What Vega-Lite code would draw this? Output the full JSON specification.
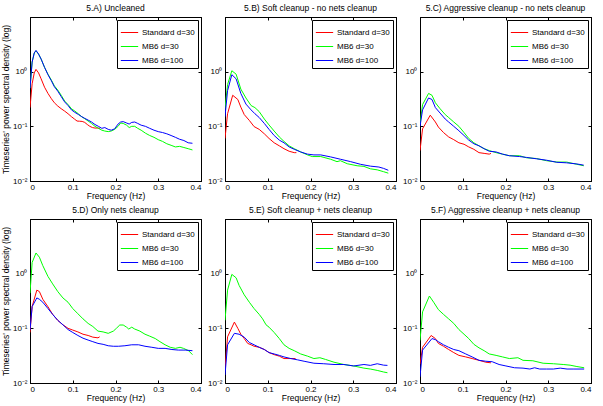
{
"$schema": "https://vega.github.io/schema/vega-lite/v6.json",
"padding": {"left": 0, "top": 3, "right": 5, "bottom": 3},
"columns": 3,
"spacing": {"row": 38, "column": 24},
"bounds": "flush",
"resolve": {"scale": {"color": "independent"}, "legend": {"color": "independent"}},
"config": {
  "font": "Liberation Sans",
  "view": {"stroke": "black", "strokeWidth": 1},
  "axis": {"grid": false, "labelFontSize": 8, "titleFontSize": 8.5, "titleFontWeight": "normal", "labelColor": "black", "titleColor": "black", "tickColor": "black", "domainColor": "black", "tickSize": -3, "labelPadding": 6, "titlePadding": 2},
  "axisX": {"labelPadding": 5, "titlePadding": 0},
  "title": {"fontSize": 8.5, "fontWeight": "normal", "offset": 4, "color": "black"},
  "legend": {"orient": "top-right", "offset": 3, "strokeColor": "black", "fillColor": "white", "padding": 3, "labelFontSize": 8, "labelColor": "black", "symbolType": "stroke", "symbolSize": 300, "symbolStrokeWidth": 1, "rowPadding": 0, "title": null, "labelOffset": 3},
  "line": {"strokeWidth": 1}
},
"datasets": {"psd": [
{"p":"A","s":"Standard d=30","f":0,"v":0.22},{"p":"A","s":"Standard d=30","f":0.005,"v":0.6},{"p":"A","s":"Standard d=30","f":0.01,"v":0.95},{"p":"A","s":"Standard d=30","f":0.014,"v":1.1},{"p":"A","s":"Standard d=30","f":0.02,"v":0.95},{"p":"A","s":"Standard d=30","f":0.026,"v":0.74},{"p":"A","s":"Standard d=30","f":0.034,"v":0.52},{"p":"A","s":"Standard d=30","f":0.042,"v":0.4},{"p":"A","s":"Standard d=30","f":0.05,"v":0.32},{"p":"A","s":"Standard d=30","f":0.057,"v":0.27},{"p":"A","s":"Standard d=30","f":0.065,"v":0.235},{"p":"A","s":"Standard d=30","f":0.073,"v":0.21},{"p":"A","s":"Standard d=30","f":0.081,"v":0.19},{"p":"A","s":"Standard d=30","f":0.089,"v":0.17},{"p":"A","s":"Standard d=30","f":0.097,"v":0.15},{"p":"A","s":"Standard d=30","f":0.104,"v":0.136},{"p":"A","s":"Standard d=30","f":0.11,"v":0.125},{"p":"A","s":"Standard d=30","f":0.116,"v":0.124},{"p":"A","s":"Standard d=30","f":0.122,"v":0.123},{"p":"A","s":"Standard d=30","f":0.128,"v":0.118},{"p":"A","s":"Standard d=30","f":0.134,"v":0.108},{"p":"A","s":"Standard d=30","f":0.14,"v":0.1},{"p":"A","s":"Standard d=30","f":0.146,"v":0.095},{"p":"A","s":"Standard d=30","f":0.152,"v":0.093},{"p":"A","s":"Standard d=30","f":0.158,"v":0.093},{"p":"A","s":"Standard d=30","f":0.164,"v":0.092},
{"p":"A","s":"MB6 d=30","f":0,"v":0.5},{"p":"A","s":"MB6 d=30","f":0.005,"v":1.5},{"p":"A","s":"MB6 d=30","f":0.01,"v":2.2},{"p":"A","s":"MB6 d=30","f":0.014,"v":2.4},{"p":"A","s":"MB6 d=30","f":0.02,"v":2.1},{"p":"A","s":"MB6 d=30","f":0.026,"v":1.7},{"p":"A","s":"MB6 d=30","f":0.034,"v":1.2},{"p":"A","s":"MB6 d=30","f":0.042,"v":0.9},{"p":"A","s":"MB6 d=30","f":0.05,"v":0.7},{"p":"A","s":"MB6 d=30","f":0.057,"v":0.55},{"p":"A","s":"MB6 d=30","f":0.065,"v":0.46},{"p":"A","s":"MB6 d=30","f":0.073,"v":0.37},{"p":"A","s":"MB6 d=30","f":0.081,"v":0.29},{"p":"A","s":"MB6 d=30","f":0.089,"v":0.25},{"p":"A","s":"MB6 d=30","f":0.097,"v":0.21},{"p":"A","s":"MB6 d=30","f":0.105,"v":0.19},{"p":"A","s":"MB6 d=30","f":0.113,"v":0.17},{"p":"A","s":"MB6 d=30","f":0.121,"v":0.15},{"p":"A","s":"MB6 d=30","f":0.128,"v":0.138},{"p":"A","s":"MB6 d=30","f":0.136,"v":0.125},{"p":"A","s":"MB6 d=30","f":0.144,"v":0.113},{"p":"A","s":"MB6 d=30","f":0.152,"v":0.1},{"p":"A","s":"MB6 d=30","f":0.16,"v":0.092},{"p":"A","s":"MB6 d=30","f":0.168,"v":0.085},{"p":"A","s":"MB6 d=30","f":0.175,"v":0.082},{"p":"A","s":"MB6 d=30","f":0.183,"v":0.08},{"p":"A","s":"MB6 d=30","f":0.19,"v":0.082},{"p":"A","s":"MB6 d=30","f":0.198,"v":0.088},{"p":"A","s":"MB6 d=30","f":0.206,"v":0.1},{"p":"A","s":"MB6 d=30","f":0.212,"v":0.115},{"p":"A","s":"MB6 d=30","f":0.218,"v":0.113},{"p":"A","s":"MB6 d=30","f":0.226,"v":0.105},{"p":"A","s":"MB6 d=30","f":0.232,"v":0.095},{"p":"A","s":"MB6 d=30","f":0.238,"v":0.1},{"p":"A","s":"MB6 d=30","f":0.245,"v":0.1},{"p":"A","s":"MB6 d=30","f":0.252,"v":0.092},{"p":"A","s":"MB6 d=30","f":0.26,"v":0.085},{"p":"A","s":"MB6 d=30","f":0.27,"v":0.075},{"p":"A","s":"MB6 d=30","f":0.28,"v":0.068},{"p":"A","s":"MB6 d=30","f":0.29,"v":0.063},{"p":"A","s":"MB6 d=30","f":0.3,"v":0.057},{"p":"A","s":"MB6 d=30","f":0.31,"v":0.053},{"p":"A","s":"MB6 d=30","f":0.32,"v":0.048},{"p":"A","s":"MB6 d=30","f":0.33,"v":0.045},{"p":"A","s":"MB6 d=30","f":0.34,"v":0.042},{"p":"A","s":"MB6 d=30","f":0.35,"v":0.043},{"p":"A","s":"MB6 d=30","f":0.36,"v":0.041},{"p":"A","s":"MB6 d=30","f":0.37,"v":0.039},{"p":"A","s":"MB6 d=30","f":0.38,"v":0.037},
{"p":"A","s":"MB6 d=100","f":0,"v":0.5},{"p":"A","s":"MB6 d=100","f":0.005,"v":1.5},{"p":"A","s":"MB6 d=100","f":0.01,"v":2.2},{"p":"A","s":"MB6 d=100","f":0.014,"v":2.45},{"p":"A","s":"MB6 d=100","f":0.02,"v":2.1},{"p":"A","s":"MB6 d=100","f":0.026,"v":1.7},{"p":"A","s":"MB6 d=100","f":0.034,"v":1.2},{"p":"A","s":"MB6 d=100","f":0.042,"v":0.88},{"p":"A","s":"MB6 d=100","f":0.05,"v":0.68},{"p":"A","s":"MB6 d=100","f":0.057,"v":0.53},{"p":"A","s":"MB6 d=100","f":0.065,"v":0.44},{"p":"A","s":"MB6 d=100","f":0.073,"v":0.35},{"p":"A","s":"MB6 d=100","f":0.081,"v":0.28},{"p":"A","s":"MB6 d=100","f":0.089,"v":0.24},{"p":"A","s":"MB6 d=100","f":0.097,"v":0.2},{"p":"A","s":"MB6 d=100","f":0.105,"v":0.18},{"p":"A","s":"MB6 d=100","f":0.113,"v":0.165},{"p":"A","s":"MB6 d=100","f":0.121,"v":0.15},{"p":"A","s":"MB6 d=100","f":0.128,"v":0.14},{"p":"A","s":"MB6 d=100","f":0.136,"v":0.13},{"p":"A","s":"MB6 d=100","f":0.144,"v":0.12},{"p":"A","s":"MB6 d=100","f":0.152,"v":0.108},{"p":"A","s":"MB6 d=100","f":0.16,"v":0.1},{"p":"A","s":"MB6 d=100","f":0.168,"v":0.092},{"p":"A","s":"MB6 d=100","f":0.175,"v":0.095},{"p":"A","s":"MB6 d=100","f":0.183,"v":0.088},{"p":"A","s":"MB6 d=100","f":0.19,"v":0.085},{"p":"A","s":"MB6 d=100","f":0.198,"v":0.09},{"p":"A","s":"MB6 d=100","f":0.206,"v":0.11},{"p":"A","s":"MB6 d=100","f":0.212,"v":0.12},{"p":"A","s":"MB6 d=100","f":0.218,"v":0.122},{"p":"A","s":"MB6 d=100","f":0.226,"v":0.115},{"p":"A","s":"MB6 d=100","f":0.232,"v":0.11},{"p":"A","s":"MB6 d=100","f":0.238,"v":0.118},{"p":"A","s":"MB6 d=100","f":0.245,"v":0.12},{"p":"A","s":"MB6 d=100","f":0.252,"v":0.113},{"p":"A","s":"MB6 d=100","f":0.26,"v":0.105},{"p":"A","s":"MB6 d=100","f":0.27,"v":0.1},{"p":"A","s":"MB6 d=100","f":0.28,"v":0.092},{"p":"A","s":"MB6 d=100","f":0.29,"v":0.085},{"p":"A","s":"MB6 d=100","f":0.3,"v":0.08},{"p":"A","s":"MB6 d=100","f":0.31,"v":0.077},{"p":"A","s":"MB6 d=100","f":0.32,"v":0.073},{"p":"A","s":"MB6 d=100","f":0.33,"v":0.068},{"p":"A","s":"MB6 d=100","f":0.34,"v":0.063},{"p":"A","s":"MB6 d=100","f":0.35,"v":0.058},{"p":"A","s":"MB6 d=100","f":0.36,"v":0.055},{"p":"A","s":"MB6 d=100","f":0.37,"v":0.05},{"p":"A","s":"MB6 d=100","f":0.38,"v":0.049},
{"p":"B","s":"Standard d=30","f":0,"v":0.06},{"p":"B","s":"Standard d=30","f":0.006,"v":0.17},{"p":"B","s":"Standard d=30","f":0.018,"v":0.37},{"p":"B","s":"Standard d=30","f":0.03,"v":0.31},{"p":"B","s":"Standard d=30","f":0.037,"v":0.225},{"p":"B","s":"Standard d=30","f":0.045,"v":0.164},{"p":"B","s":"Standard d=30","f":0.057,"v":0.128},{"p":"B","s":"Standard d=30","f":0.068,"v":0.099},{"p":"B","s":"Standard d=30","f":0.08,"v":0.088},{"p":"B","s":"Standard d=30","f":0.092,"v":0.073},{"p":"B","s":"Standard d=30","f":0.103,"v":0.06},{"p":"B","s":"Standard d=30","f":0.115,"v":0.05},{"p":"B","s":"Standard d=30","f":0.127,"v":0.044},{"p":"B","s":"Standard d=30","f":0.138,"v":0.039},{"p":"B","s":"Standard d=30","f":0.15,"v":0.035},{"p":"B","s":"Standard d=30","f":0.162,"v":0.033},{"p":"B","s":"Standard d=30","f":0.167,"v":0.033},
{"p":"B","s":"MB6 d=30","f":0,"v":0.21},{"p":"B","s":"MB6 d=30","f":0.006,"v":0.58},{"p":"B","s":"MB6 d=30","f":0.016,"v":1.04},{"p":"B","s":"MB6 d=30","f":0.026,"v":0.9},{"p":"B","s":"MB6 d=30","f":0.037,"v":0.48},{"p":"B","s":"MB6 d=30","f":0.049,"v":0.33},{"p":"B","s":"MB6 d=30","f":0.061,"v":0.24},{"p":"B","s":"MB6 d=30","f":0.07,"v":0.22},{"p":"B","s":"MB6 d=30","f":0.08,"v":0.186},{"p":"B","s":"MB6 d=30","f":0.092,"v":0.136},{"p":"B","s":"MB6 d=30","f":0.103,"v":0.106},{"p":"B","s":"MB6 d=30","f":0.115,"v":0.082},{"p":"B","s":"MB6 d=30","f":0.127,"v":0.064},{"p":"B","s":"MB6 d=30","f":0.138,"v":0.053},{"p":"B","s":"MB6 d=30","f":0.15,"v":0.044},{"p":"B","s":"MB6 d=30","f":0.162,"v":0.039},{"p":"B","s":"MB6 d=30","f":0.177,"v":0.034},{"p":"B","s":"MB6 d=30","f":0.193,"v":0.03},{"p":"B","s":"MB6 d=30","f":0.204,"v":0.028},{"p":"B","s":"MB6 d=30","f":0.224,"v":0.028},{"p":"B","s":"MB6 d=30","f":0.247,"v":0.025},{"p":"B","s":"MB6 d=30","f":0.262,"v":0.0226},{"p":"B","s":"MB6 d=30","f":0.27,"v":0.0235},{"p":"B","s":"MB6 d=30","f":0.286,"v":0.0207},{"p":"B","s":"MB6 d=30","f":0.309,"v":0.019},{"p":"B","s":"MB6 d=30","f":0.325,"v":0.0185},{"p":"B","s":"MB6 d=30","f":0.34,"v":0.0167},{"p":"B","s":"MB6 d=30","f":0.356,"v":0.016},{"p":"B","s":"MB6 d=30","f":0.371,"v":0.0148},{"p":"B","s":"MB6 d=30","f":0.382,"v":0.0139},
{"p":"B","s":"MB6 d=100","f":0,"v":0.15},{"p":"B","s":"MB6 d=100","f":0.006,"v":0.45},{"p":"B","s":"MB6 d=100","f":0.016,"v":0.88},{"p":"B","s":"MB6 d=100","f":0.026,"v":0.74},{"p":"B","s":"MB6 d=100","f":0.037,"v":0.4},{"p":"B","s":"MB6 d=100","f":0.049,"v":0.255},{"p":"B","s":"MB6 d=100","f":0.061,"v":0.2},{"p":"B","s":"MB6 d=100","f":0.07,"v":0.17},{"p":"B","s":"MB6 d=100","f":0.08,"v":0.145},{"p":"B","s":"MB6 d=100","f":0.092,"v":0.113},{"p":"B","s":"MB6 d=100","f":0.103,"v":0.088},{"p":"B","s":"MB6 d=100","f":0.115,"v":0.068},{"p":"B","s":"MB6 d=100","f":0.127,"v":0.056},{"p":"B","s":"MB6 d=100","f":0.138,"v":0.05},{"p":"B","s":"MB6 d=100","f":0.15,"v":0.042},{"p":"B","s":"MB6 d=100","f":0.162,"v":0.038},{"p":"B","s":"MB6 d=100","f":0.177,"v":0.034},{"p":"B","s":"MB6 d=100","f":0.193,"v":0.031},{"p":"B","s":"MB6 d=100","f":0.208,"v":0.03},{"p":"B","s":"MB6 d=100","f":0.224,"v":0.03},{"p":"B","s":"MB6 d=100","f":0.247,"v":0.0276},{"p":"B","s":"MB6 d=100","f":0.27,"v":0.025},{"p":"B","s":"MB6 d=100","f":0.294,"v":0.0226},{"p":"B","s":"MB6 d=100","f":0.317,"v":0.0202},{"p":"B","s":"MB6 d=100","f":0.34,"v":0.0187},{"p":"B","s":"MB6 d=100","f":0.36,"v":0.018},{"p":"B","s":"MB6 d=100","f":0.371,"v":0.017},{"p":"B","s":"MB6 d=100","f":0.382,"v":0.0157},
{"p":"C","s":"Standard d=30","f":0,"v":0.036},{"p":"C","s":"Standard d=30","f":0.006,"v":0.09},{"p":"C","s":"Standard d=30","f":0.024,"v":0.16},{"p":"C","s":"Standard d=30","f":0.036,"v":0.12},{"p":"C","s":"Standard d=30","f":0.043,"v":0.097},{"p":"C","s":"Standard d=30","f":0.055,"v":0.077},{"p":"C","s":"Standard d=30","f":0.067,"v":0.064},{"p":"C","s":"Standard d=30","f":0.079,"v":0.057},{"p":"C","s":"Standard d=30","f":0.091,"v":0.05},{"p":"C","s":"Standard d=30","f":0.103,"v":0.047},{"p":"C","s":"Standard d=30","f":0.114,"v":0.042},{"p":"C","s":"Standard d=30","f":0.126,"v":0.038},{"p":"C","s":"Standard d=30","f":0.138,"v":0.033},{"p":"C","s":"Standard d=30","f":0.15,"v":0.032},{"p":"C","s":"Standard d=30","f":0.162,"v":0.031},{"p":"C","s":"Standard d=30","f":0.166,"v":0.032},
{"p":"C","s":"MB6 d=30","f":0,"v":0.11},{"p":"C","s":"MB6 d=30","f":0.006,"v":0.25},{"p":"C","s":"MB6 d=30","f":0.02,"v":0.4},{"p":"C","s":"MB6 d=30","f":0.028,"v":0.37},{"p":"C","s":"MB6 d=30","f":0.036,"v":0.27},{"p":"C","s":"MB6 d=30","f":0.047,"v":0.21},{"p":"C","s":"MB6 d=30","f":0.059,"v":0.164},{"p":"C","s":"MB6 d=30","f":0.067,"v":0.145},{"p":"C","s":"MB6 d=30","f":0.079,"v":0.12},{"p":"C","s":"MB6 d=30","f":0.091,"v":0.1},{"p":"C","s":"MB6 d=30","f":0.103,"v":0.077},{"p":"C","s":"MB6 d=30","f":0.114,"v":0.06},{"p":"C","s":"MB6 d=30","f":0.126,"v":0.05},{"p":"C","s":"MB6 d=30","f":0.138,"v":0.044},{"p":"C","s":"MB6 d=30","f":0.15,"v":0.039},{"p":"C","s":"MB6 d=30","f":0.162,"v":0.036},{"p":"C","s":"MB6 d=30","f":0.178,"v":0.033},{"p":"C","s":"MB6 d=30","f":0.193,"v":0.031},{"p":"C","s":"MB6 d=30","f":0.209,"v":0.029},{"p":"C","s":"MB6 d=30","f":0.233,"v":0.029},{"p":"C","s":"MB6 d=30","f":0.249,"v":0.0266},{"p":"C","s":"MB6 d=30","f":0.272,"v":0.0258},{"p":"C","s":"MB6 d=30","f":0.296,"v":0.0235},{"p":"C","s":"MB6 d=30","f":0.32,"v":0.0222},{"p":"C","s":"MB6 d=30","f":0.343,"v":0.0222},{"p":"C","s":"MB6 d=30","f":0.367,"v":0.0202},{"p":"C","s":"MB6 d=30","f":0.383,"v":0.019},
{"p":"C","s":"MB6 d=100","f":0,"v":0.1},{"p":"C","s":"MB6 d=100","f":0.006,"v":0.2},{"p":"C","s":"MB6 d=100","f":0.02,"v":0.33},{"p":"C","s":"MB6 d=100","f":0.028,"v":0.31},{"p":"C","s":"MB6 d=100","f":0.036,"v":0.22},{"p":"C","s":"MB6 d=100","f":0.047,"v":0.175},{"p":"C","s":"MB6 d=100","f":0.059,"v":0.136},{"p":"C","s":"MB6 d=100","f":0.067,"v":0.12},{"p":"C","s":"MB6 d=100","f":0.079,"v":0.1},{"p":"C","s":"MB6 d=100","f":0.091,"v":0.083},{"p":"C","s":"MB6 d=100","f":0.103,"v":0.068},{"p":"C","s":"MB6 d=100","f":0.114,"v":0.056},{"p":"C","s":"MB6 d=100","f":0.126,"v":0.048},{"p":"C","s":"MB6 d=100","f":0.138,"v":0.044},{"p":"C","s":"MB6 d=100","f":0.15,"v":0.039},{"p":"C","s":"MB6 d=100","f":0.162,"v":0.035},{"p":"C","s":"MB6 d=100","f":0.178,"v":0.034},{"p":"C","s":"MB6 d=100","f":0.193,"v":0.031},{"p":"C","s":"MB6 d=100","f":0.209,"v":0.029},{"p":"C","s":"MB6 d=100","f":0.233,"v":0.028},{"p":"C","s":"MB6 d=100","f":0.249,"v":0.027},{"p":"C","s":"MB6 d=100","f":0.272,"v":0.0255},{"p":"C","s":"MB6 d=100","f":0.296,"v":0.024},{"p":"C","s":"MB6 d=100","f":0.32,"v":0.022},{"p":"C","s":"MB6 d=100","f":0.343,"v":0.0215},{"p":"C","s":"MB6 d=100","f":0.367,"v":0.0205},{"p":"C","s":"MB6 d=100","f":0.383,"v":0.0195},
{"p":"D","s":"Standard d=30","f":0,"v":0.084},{"p":"D","s":"Standard d=30","f":0.005,"v":0.25},{"p":"D","s":"Standard d=30","f":0.016,"v":0.5},{"p":"D","s":"Standard d=30","f":0.022,"v":0.47},{"p":"D","s":"Standard d=30","f":0.03,"v":0.34},{"p":"D","s":"Standard d=30","f":0.042,"v":0.248},{"p":"D","s":"Standard d=30","f":0.053,"v":0.18},{"p":"D","s":"Standard d=30","f":0.065,"v":0.14},{"p":"D","s":"Standard d=30","f":0.077,"v":0.116},{"p":"D","s":"Standard d=30","f":0.089,"v":0.1},{"p":"D","s":"Standard d=30","f":0.1,"v":0.093},{"p":"D","s":"Standard d=30","f":0.112,"v":0.086},{"p":"D","s":"Standard d=30","f":0.124,"v":0.078},{"p":"D","s":"Standard d=30","f":0.136,"v":0.074},{"p":"D","s":"Standard d=30","f":0.147,"v":0.069},{"p":"D","s":"Standard d=30","f":0.159,"v":0.067},{"p":"D","s":"Standard d=30","f":0.163,"v":0.07},
{"p":"D","s":"MB6 d=30","f":0,"v":0.44},{"p":"D","s":"MB6 d=30","f":0.005,"v":1.6},{"p":"D","s":"MB6 d=30","f":0.014,"v":2.39},{"p":"D","s":"MB6 d=30","f":0.022,"v":2.0},{"p":"D","s":"MB6 d=30","f":0.03,"v":1.4},{"p":"D","s":"MB6 d=30","f":0.042,"v":0.89},{"p":"D","s":"MB6 d=30","f":0.053,"v":0.65},{"p":"D","s":"MB6 d=30","f":0.065,"v":0.47},{"p":"D","s":"MB6 d=30","f":0.077,"v":0.36},{"p":"D","s":"MB6 d=30","f":0.089,"v":0.3},{"p":"D","s":"MB6 d=30","f":0.1,"v":0.23},{"p":"D","s":"MB6 d=30","f":0.112,"v":0.185},{"p":"D","s":"MB6 d=30","f":0.124,"v":0.149},{"p":"D","s":"MB6 d=30","f":0.136,"v":0.123},{"p":"D","s":"MB6 d=30","f":0.147,"v":0.108},{"p":"D","s":"MB6 d=30","f":0.159,"v":0.089},{"p":"D","s":"MB6 d=30","f":0.171,"v":0.086},{"p":"D","s":"MB6 d=30","f":0.183,"v":0.081},{"p":"D","s":"MB6 d=30","f":0.195,"v":0.089},{"p":"D","s":"MB6 d=30","f":0.202,"v":0.1},{"p":"D","s":"MB6 d=30","f":0.21,"v":0.115},{"p":"D","s":"MB6 d=30","f":0.218,"v":0.115},{"p":"D","s":"MB6 d=30","f":0.226,"v":0.105},{"p":"D","s":"MB6 d=30","f":0.231,"v":0.097},{"p":"D","s":"MB6 d=30","f":0.238,"v":0.105},{"p":"D","s":"MB6 d=30","f":0.245,"v":0.097},{"p":"D","s":"MB6 d=30","f":0.257,"v":0.089},{"p":"D","s":"MB6 d=30","f":0.269,"v":0.078},{"p":"D","s":"MB6 d=30","f":0.28,"v":0.072},{"p":"D","s":"MB6 d=30","f":0.293,"v":0.065},{"p":"D","s":"MB6 d=30","f":0.304,"v":0.057},{"p":"D","s":"MB6 d=30","f":0.316,"v":0.05},{"p":"D","s":"MB6 d=30","f":0.328,"v":0.045},{"p":"D","s":"MB6 d=30","f":0.34,"v":0.043},{"p":"D","s":"MB6 d=30","f":0.351,"v":0.045},{"p":"D","s":"MB6 d=30","f":0.359,"v":0.043},{"p":"D","s":"MB6 d=30","f":0.371,"v":0.039},{"p":"D","s":"MB6 d=30","f":0.38,"v":0.033},
{"p":"D","s":"MB6 d=100","f":0,"v":0.093},{"p":"D","s":"MB6 d=100","f":0.005,"v":0.25},{"p":"D","s":"MB6 d=100","f":0.016,"v":0.36},{"p":"D","s":"MB6 d=100","f":0.022,"v":0.34},{"p":"D","s":"MB6 d=100","f":0.03,"v":0.3},{"p":"D","s":"MB6 d=100","f":0.042,"v":0.23},{"p":"D","s":"MB6 d=100","f":0.053,"v":0.18},{"p":"D","s":"MB6 d=100","f":0.065,"v":0.14},{"p":"D","s":"MB6 d=100","f":0.077,"v":0.116},{"p":"D","s":"MB6 d=100","f":0.089,"v":0.095},{"p":"D","s":"MB6 d=100","f":0.1,"v":0.084},{"p":"D","s":"MB6 d=100","f":0.112,"v":0.074},{"p":"D","s":"MB6 d=100","f":0.124,"v":0.066},{"p":"D","s":"MB6 d=100","f":0.136,"v":0.061},{"p":"D","s":"MB6 d=100","f":0.147,"v":0.057},{"p":"D","s":"MB6 d=100","f":0.159,"v":0.053},{"p":"D","s":"MB6 d=100","f":0.171,"v":0.051},{"p":"D","s":"MB6 d=100","f":0.183,"v":0.048},{"p":"D","s":"MB6 d=100","f":0.195,"v":0.047},{"p":"D","s":"MB6 d=100","f":0.207,"v":0.047},{"p":"D","s":"MB6 d=100","f":0.222,"v":0.048},{"p":"D","s":"MB6 d=100","f":0.238,"v":0.05},{"p":"D","s":"MB6 d=100","f":0.254,"v":0.05},{"p":"D","s":"MB6 d=100","f":0.269,"v":0.047},{"p":"D","s":"MB6 d=100","f":0.285,"v":0.045},{"p":"D","s":"MB6 d=100","f":0.3,"v":0.043},{"p":"D","s":"MB6 d=100","f":0.316,"v":0.043},{"p":"D","s":"MB6 d=100","f":0.332,"v":0.041},{"p":"D","s":"MB6 d=100","f":0.347,"v":0.04},{"p":"D","s":"MB6 d=100","f":0.363,"v":0.04},{"p":"D","s":"MB6 d=100","f":0.38,"v":0.039},
{"p":"E","s":"Standard d=30","f":0,"v":0.018},{"p":"E","s":"Standard d=30","f":0.006,"v":0.07},{"p":"E","s":"Standard d=30","f":0.022,"v":0.13},{"p":"E","s":"Standard d=30","f":0.03,"v":0.1},{"p":"E","s":"Standard d=30","f":0.037,"v":0.078},{"p":"E","s":"Standard d=30","f":0.045,"v":0.065},{"p":"E","s":"Standard d=30","f":0.053,"v":0.053},{"p":"E","s":"Standard d=30","f":0.061,"v":0.05},{"p":"E","s":"Standard d=30","f":0.068,"v":0.047},{"p":"E","s":"Standard d=30","f":0.08,"v":0.045},{"p":"E","s":"Standard d=30","f":0.092,"v":0.041},{"p":"E","s":"Standard d=30","f":0.103,"v":0.036},{"p":"E","s":"Standard d=30","f":0.115,"v":0.033},{"p":"E","s":"Standard d=30","f":0.127,"v":0.031},{"p":"E","s":"Standard d=30","f":0.138,"v":0.028},{"p":"E","s":"Standard d=30","f":0.15,"v":0.028},{"p":"E","s":"Standard d=30","f":0.165,"v":0.028},
{"p":"E","s":"MB6 d=30","f":0,"v":0.14},{"p":"E","s":"MB6 d=30","f":0.006,"v":0.5},{"p":"E","s":"MB6 d=30","f":0.016,"v":0.97},{"p":"E","s":"MB6 d=30","f":0.026,"v":0.84},{"p":"E","s":"MB6 d=30","f":0.033,"v":0.61},{"p":"E","s":"MB6 d=30","f":0.045,"v":0.41},{"p":"E","s":"MB6 d=30","f":0.057,"v":0.3},{"p":"E","s":"MB6 d=30","f":0.068,"v":0.23},{"p":"E","s":"MB6 d=30","f":0.08,"v":0.18},{"p":"E","s":"MB6 d=30","f":0.088,"v":0.149},{"p":"E","s":"MB6 d=30","f":0.096,"v":0.116},{"p":"E","s":"MB6 d=30","f":0.103,"v":0.105},{"p":"E","s":"MB6 d=30","f":0.115,"v":0.084},{"p":"E","s":"MB6 d=30","f":0.127,"v":0.065},{"p":"E","s":"MB6 d=30","f":0.138,"v":0.05},{"p":"E","s":"MB6 d=30","f":0.15,"v":0.043},{"p":"E","s":"MB6 d=30","f":0.162,"v":0.039},{"p":"E","s":"MB6 d=30","f":0.177,"v":0.034},{"p":"E","s":"MB6 d=30","f":0.193,"v":0.031},{"p":"E","s":"MB6 d=30","f":0.208,"v":0.028},{"p":"E","s":"MB6 d=30","f":0.222,"v":0.029},{"p":"E","s":"MB6 d=30","f":0.235,"v":0.027},{"p":"E","s":"MB6 d=30","f":0.255,"v":0.024},{"p":"E","s":"MB6 d=30","f":0.278,"v":0.0218},{"p":"E","s":"MB6 d=30","f":0.301,"v":0.0205},{"p":"E","s":"MB6 d=30","f":0.325,"v":0.0187},{"p":"E","s":"MB6 d=30","f":0.34,"v":0.018},{"p":"E","s":"MB6 d=30","f":0.356,"v":0.017},{"p":"E","s":"MB6 d=30","f":0.371,"v":0.0159},{"p":"E","s":"MB6 d=30","f":0.38,"v":0.0154},
{"p":"E","s":"MB6 d=100","f":0,"v":0.014},{"p":"E","s":"MB6 d=100","f":0.006,"v":0.05},{"p":"E","s":"MB6 d=100","f":0.022,"v":0.081},{"p":"E","s":"MB6 d=100","f":0.033,"v":0.078},{"p":"E","s":"MB6 d=100","f":0.045,"v":0.069},{"p":"E","s":"MB6 d=100","f":0.057,"v":0.055},{"p":"E","s":"MB6 d=100","f":0.068,"v":0.05},{"p":"E","s":"MB6 d=100","f":0.08,"v":0.045},{"p":"E","s":"MB6 d=100","f":0.092,"v":0.041},{"p":"E","s":"MB6 d=100","f":0.103,"v":0.036},{"p":"E","s":"MB6 d=100","f":0.115,"v":0.034},{"p":"E","s":"MB6 d=100","f":0.127,"v":0.032},{"p":"E","s":"MB6 d=100","f":0.138,"v":0.03},{"p":"E","s":"MB6 d=100","f":0.154,"v":0.028},{"p":"E","s":"MB6 d=100","f":0.17,"v":0.0265},{"p":"E","s":"MB6 d=100","f":0.185,"v":0.025},{"p":"E","s":"MB6 d=100","f":0.208,"v":0.023},{"p":"E","s":"MB6 d=100","f":0.231,"v":0.0225},{"p":"E","s":"MB6 d=100","f":0.255,"v":0.0218},{"p":"E","s":"MB6 d=100","f":0.278,"v":0.0218},{"p":"E","s":"MB6 d=100","f":0.301,"v":0.0205},{"p":"E","s":"MB6 d=100","f":0.325,"v":0.0218},{"p":"E","s":"MB6 d=100","f":0.34,"v":0.021},{"p":"E","s":"MB6 d=100","f":0.356,"v":0.0225},{"p":"E","s":"MB6 d=100","f":0.371,"v":0.0212},{"p":"E","s":"MB6 d=100","f":0.38,"v":0.021},
{"p":"F","s":"Standard d=30","f":0,"v":0.022},{"p":"F","s":"Standard d=30","f":0.006,"v":0.045},{"p":"F","s":"Standard d=30","f":0.026,"v":0.074},{"p":"F","s":"Standard d=30","f":0.036,"v":0.065},{"p":"F","s":"Standard d=30","f":0.043,"v":0.053},{"p":"F","s":"Standard d=30","f":0.055,"v":0.047},{"p":"F","s":"Standard d=30","f":0.067,"v":0.041},{"p":"F","s":"Standard d=30","f":0.079,"v":0.036},{"p":"F","s":"Standard d=30","f":0.091,"v":0.032},{"p":"F","s":"Standard d=30","f":0.107,"v":0.03},{"p":"F","s":"Standard d=30","f":0.122,"v":0.028},{"p":"F","s":"Standard d=30","f":0.138,"v":0.026},{"p":"F","s":"Standard d=30","f":0.154,"v":0.024},{"p":"F","s":"Standard d=30","f":0.166,"v":0.0234},
{"p":"F","s":"MB6 d=30","f":0,"v":0.06},{"p":"F","s":"MB6 d=30","f":0.006,"v":0.2},{"p":"F","s":"MB6 d=30","f":0.022,"v":0.39},{"p":"F","s":"MB6 d=30","f":0.032,"v":0.3},{"p":"F","s":"MB6 d=30","f":0.043,"v":0.22},{"p":"F","s":"MB6 d=30","f":0.055,"v":0.18},{"p":"F","s":"MB6 d=30","f":0.067,"v":0.149},{"p":"F","s":"MB6 d=30","f":0.079,"v":0.123},{"p":"F","s":"MB6 d=30","f":0.091,"v":0.095},{"p":"F","s":"MB6 d=30","f":0.103,"v":0.078},{"p":"F","s":"MB6 d=30","f":0.114,"v":0.065},{"p":"F","s":"MB6 d=30","f":0.126,"v":0.051},{"p":"F","s":"MB6 d=30","f":0.138,"v":0.044},{"p":"F","s":"MB6 d=30","f":0.15,"v":0.039},{"p":"F","s":"MB6 d=30","f":0.162,"v":0.034},{"p":"F","s":"MB6 d=30","f":0.178,"v":0.032},{"p":"F","s":"MB6 d=30","f":0.193,"v":0.03},{"p":"F","s":"MB6 d=30","f":0.209,"v":0.028},{"p":"F","s":"MB6 d=30","f":0.229,"v":0.029},{"p":"F","s":"MB6 d=30","f":0.241,"v":0.026},{"p":"F","s":"MB6 d=30","f":0.264,"v":0.0255},{"p":"F","s":"MB6 d=30","f":0.288,"v":0.023},{"p":"F","s":"MB6 d=30","f":0.312,"v":0.0225},{"p":"F","s":"MB6 d=30","f":0.335,"v":0.0218},{"p":"F","s":"MB6 d=30","f":0.351,"v":0.0212},{"p":"F","s":"MB6 d=30","f":0.367,"v":0.02},{"p":"F","s":"MB6 d=30","f":0.384,"v":0.019},
{"p":"F","s":"MB6 d=100","f":0,"v":0.013},{"p":"F","s":"MB6 d=100","f":0.006,"v":0.04},{"p":"F","s":"MB6 d=100","f":0.028,"v":0.065},{"p":"F","s":"MB6 d=100","f":0.036,"v":0.062},{"p":"F","s":"MB6 d=100","f":0.043,"v":0.057},{"p":"F","s":"MB6 d=100","f":0.055,"v":0.05},{"p":"F","s":"MB6 d=100","f":0.067,"v":0.045},{"p":"F","s":"MB6 d=100","f":0.079,"v":0.041},{"p":"F","s":"MB6 d=100","f":0.091,"v":0.039},{"p":"F","s":"MB6 d=100","f":0.107,"v":0.034},{"p":"F","s":"MB6 d=100","f":0.122,"v":0.03},{"p":"F","s":"MB6 d=100","f":0.138,"v":0.026},{"p":"F","s":"MB6 d=100","f":0.154,"v":0.025},{"p":"F","s":"MB6 d=100","f":0.169,"v":0.0245},{"p":"F","s":"MB6 d=100","f":0.185,"v":0.0218},{"p":"F","s":"MB6 d=100","f":0.201,"v":0.0205},{"p":"F","s":"MB6 d=100","f":0.221,"v":0.019},{"p":"F","s":"MB6 d=100","f":0.241,"v":0.0187},{"p":"F","s":"MB6 d=100","f":0.257,"v":0.018},{"p":"F","s":"MB6 d=100","f":0.268,"v":0.019},{"p":"F","s":"MB6 d=100","f":0.28,"v":0.018},{"p":"F","s":"MB6 d=100","f":0.296,"v":0.018},{"p":"F","s":"MB6 d=100","f":0.312,"v":0.018},{"p":"F","s":"MB6 d=100","f":0.328,"v":0.0187},{"p":"F","s":"MB6 d=100","f":0.344,"v":0.018},{"p":"F","s":"MB6 d=100","f":0.36,"v":0.018},{"p":"F","s":"MB6 d=100","f":0.384,"v":0.018}
]},
"concat": [
{"title": "5.A) Uncleaned", "width": 171, "height": 164, "data": {"name": "psd"}, "transform": [{"filter": "datum.p == 'A'"}],
 "resolve": {"axis": {"x": "independent", "y": "independent"}},
 "layer": [
  {"mark": {"type": "line", "clip": true},
   "encoding": {
    "x": {"field": "f", "type": "quantitative", "scale": {"domain": [0, 0.4]}, "axis": {"title": "Frequency (Hz)", "values": [0, 0.1, 0.2, 0.3, 0.4], "format": "~g"}},
    "y": {"field": "v", "type": "quantitative", "scale": {"type": "log", "domain": [0.01, 5]}, "axis": {"title": "Timeseries' power spectral density (log)", "values": [0.01, 0.1, 1], "labelExpr": "datum.value >= 0.5 ? '10⁰' : datum.value >= 0.05 ? '10⁻¹' : '10⁻²'"}},
    "color": {"field": "s", "type": "nominal", "sort": null, "scale": {"domain": ["Standard d=30", "MB6 d=30", "MB6 d=100"], "range": ["#ff0000", "#00ff00", "#0000ff"]}}
   }},
  {"mark": {"type": "line", "opacity": 0},
   "encoding": {
    "x": {"field": "f", "type": "quantitative", "axis": {"orient": "top", "labels": false, "title": null, "values": [0, 0.1, 0.2, 0.3, 0.4]}},
    "y": {"field": "v", "type": "quantitative", "axis": {"orient": "right", "labels": false, "title": null, "values": [0.01, 0.1, 1]}}
   }}
 ]},
{"title": "5.B) Soft cleanup - no nets cleanup", "width": 171, "height": 164, "data": {"name": "psd"}, "transform": [{"filter": "datum.p == 'B'"}],
 "resolve": {"axis": {"x": "independent", "y": "independent"}},
 "layer": [
  {"mark": {"type": "line", "clip": true},
   "encoding": {
    "x": {"field": "f", "type": "quantitative", "scale": {"domain": [0, 0.4]}, "axis": {"title": "Frequency (Hz)", "values": [0, 0.1, 0.2, 0.3, 0.4], "format": "~g"}},
    "y": {"field": "v", "type": "quantitative", "scale": {"type": "log", "domain": [0.01, 5]}, "axis": {"title": null, "values": [0.01, 0.1, 1], "labelExpr": "datum.value >= 0.5 ? '10⁰' : datum.value >= 0.05 ? '10⁻¹' : '10⁻²'"}},
    "color": {"field": "s", "type": "nominal", "sort": null, "scale": {"domain": ["Standard d=30", "MB6 d=30", "MB6 d=100"], "range": ["#ff0000", "#00ff00", "#0000ff"]}}
   }},
  {"mark": {"type": "line", "opacity": 0},
   "encoding": {
    "x": {"field": "f", "type": "quantitative", "axis": {"orient": "top", "labels": false, "title": null, "values": [0, 0.1, 0.2, 0.3, 0.4]}},
    "y": {"field": "v", "type": "quantitative", "axis": {"orient": "right", "labels": false, "title": null, "values": [0.01, 0.1, 1]}}
   }}
 ]},
{"title": "5.C) Aggressive cleanup - no nets cleanup", "width": 171, "height": 164, "data": {"name": "psd"}, "transform": [{"filter": "datum.p == 'C'"}],
 "resolve": {"axis": {"x": "independent", "y": "independent"}},
 "layer": [
  {"mark": {"type": "line", "clip": true},
   "encoding": {
    "x": {"field": "f", "type": "quantitative", "scale": {"domain": [0, 0.4]}, "axis": {"title": "Frequency (Hz)", "values": [0, 0.1, 0.2, 0.3, 0.4], "format": "~g"}},
    "y": {"field": "v", "type": "quantitative", "scale": {"type": "log", "domain": [0.01, 5]}, "axis": {"title": null, "values": [0.01, 0.1, 1], "labelExpr": "datum.value >= 0.5 ? '10⁰' : datum.value >= 0.05 ? '10⁻¹' : '10⁻²'"}},
    "color": {"field": "s", "type": "nominal", "sort": null, "scale": {"domain": ["Standard d=30", "MB6 d=30", "MB6 d=100"], "range": ["#ff0000", "#00ff00", "#0000ff"]}}
   }},
  {"mark": {"type": "line", "opacity": 0},
   "encoding": {
    "x": {"field": "f", "type": "quantitative", "axis": {"orient": "top", "labels": false, "title": null, "values": [0, 0.1, 0.2, 0.3, 0.4]}},
    "y": {"field": "v", "type": "quantitative", "axis": {"orient": "right", "labels": false, "title": null, "values": [0.01, 0.1, 1]}}
   }}
 ]},
{"title": "5.D) Only nets cleanup", "width": 171, "height": 164, "data": {"name": "psd"}, "transform": [{"filter": "datum.p == 'D'"}],
 "resolve": {"axis": {"x": "independent", "y": "independent"}},
 "layer": [
  {"mark": {"type": "line", "clip": true},
   "encoding": {
    "x": {"field": "f", "type": "quantitative", "scale": {"domain": [0, 0.4]}, "axis": {"title": "Frequency (Hz)", "values": [0, 0.1, 0.2, 0.3, 0.4], "format": "~g"}},
    "y": {"field": "v", "type": "quantitative", "scale": {"type": "log", "domain": [0.01, 5]}, "axis": {"title": "Timeseries' power spectral density (log)", "values": [0.01, 0.1, 1], "labelExpr": "datum.value >= 0.5 ? '10⁰' : datum.value >= 0.05 ? '10⁻¹' : '10⁻²'"}},
    "color": {"field": "s", "type": "nominal", "sort": null, "scale": {"domain": ["Standard d=30", "MB6 d=30", "MB6 d=100"], "range": ["#ff0000", "#00ff00", "#0000ff"]}}
   }},
  {"mark": {"type": "line", "opacity": 0},
   "encoding": {
    "x": {"field": "f", "type": "quantitative", "axis": {"orient": "top", "labels": false, "title": null, "values": [0, 0.1, 0.2, 0.3, 0.4]}},
    "y": {"field": "v", "type": "quantitative", "axis": {"orient": "right", "labels": false, "title": null, "values": [0.01, 0.1, 1]}}
   }}
 ]},
{"title": "5.E) Soft cleanup + nets cleanup", "width": 171, "height": 164, "data": {"name": "psd"}, "transform": [{"filter": "datum.p == 'E'"}],
 "resolve": {"axis": {"x": "independent", "y": "independent"}},
 "layer": [
  {"mark": {"type": "line", "clip": true},
   "encoding": {
    "x": {"field": "f", "type": "quantitative", "scale": {"domain": [0, 0.4]}, "axis": {"title": "Frequency (Hz)", "values": [0, 0.1, 0.2, 0.3, 0.4], "format": "~g"}},
    "y": {"field": "v", "type": "quantitative", "scale": {"type": "log", "domain": [0.01, 5]}, "axis": {"title": null, "values": [0.01, 0.1, 1], "labelExpr": "datum.value >= 0.5 ? '10⁰' : datum.value >= 0.05 ? '10⁻¹' : '10⁻²'"}},
    "color": {"field": "s", "type": "nominal", "sort": null, "scale": {"domain": ["Standard d=30", "MB6 d=30", "MB6 d=100"], "range": ["#ff0000", "#00ff00", "#0000ff"]}}
   }},
  {"mark": {"type": "line", "opacity": 0},
   "encoding": {
    "x": {"field": "f", "type": "quantitative", "axis": {"orient": "top", "labels": false, "title": null, "values": [0, 0.1, 0.2, 0.3, 0.4]}},
    "y": {"field": "v", "type": "quantitative", "axis": {"orient": "right", "labels": false, "title": null, "values": [0.01, 0.1, 1]}}
   }}
 ]},
{"title": "5.F) Aggressive cleanup + nets cleanup", "width": 171, "height": 164, "data": {"name": "psd"}, "transform": [{"filter": "datum.p == 'F'"}],
 "resolve": {"axis": {"x": "independent", "y": "independent"}},
 "layer": [
  {"mark": {"type": "line", "clip": true},
   "encoding": {
    "x": {"field": "f", "type": "quantitative", "scale": {"domain": [0, 0.4]}, "axis": {"title": "Frequency (Hz)", "values": [0, 0.1, 0.2, 0.3, 0.4], "format": "~g"}},
    "y": {"field": "v", "type": "quantitative", "scale": {"type": "log", "domain": [0.01, 5]}, "axis": {"title": null, "values": [0.01, 0.1, 1], "labelExpr": "datum.value >= 0.5 ? '10⁰' : datum.value >= 0.05 ? '10⁻¹' : '10⁻²'"}},
    "color": {"field": "s", "type": "nominal", "sort": null, "scale": {"domain": ["Standard d=30", "MB6 d=30", "MB6 d=100"], "range": ["#ff0000", "#00ff00", "#0000ff"]}}
   }},
  {"mark": {"type": "line", "opacity": 0},
   "encoding": {
    "x": {"field": "f", "type": "quantitative", "axis": {"orient": "top", "labels": false, "title": null, "values": [0, 0.1, 0.2, 0.3, 0.4]}},
    "y": {"field": "v", "type": "quantitative", "axis": {"orient": "right", "labels": false, "title": null, "values": [0.01, 0.1, 1]}}
   }}
 ]}
]
}
